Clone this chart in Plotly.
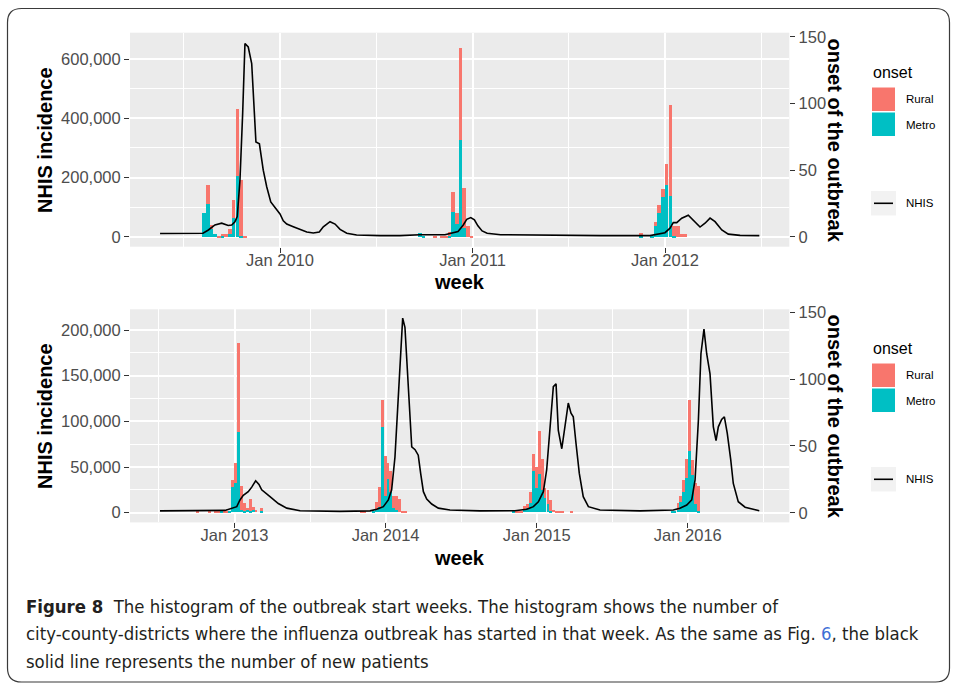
import plotly.graph_objects as go

# ---------------- data ----------------
# x values are decimal years; bars are weekly bins
top_line_year = [2009.377, 2009.481, 2009.600, 2009.628, 2009.662, 2009.697, 2009.731, 2009.749, 2009.766, 2009.778,
                 2009.792, 2009.806, 2009.818, 2009.835, 2009.853, 2009.875, 2009.893, 2009.913, 2009.931, 2009.952,
                 2009.983, 2010.000, 2010.017, 2010.035, 2010.069, 2010.104, 2010.139, 2010.173, 2010.204, 2010.225,
                 2010.260, 2010.286, 2010.312, 2010.347, 2010.398, 2010.520, 2010.623, 2010.727, 2010.857, 2010.925,
                 2010.952, 2010.970, 2010.991, 2011.010, 2011.028, 2011.050, 2011.076, 2011.146, 2011.405, 2011.665,
                 2011.922, 2012.000, 2012.026, 2012.043, 2012.061, 2012.087, 2012.121, 2012.147, 2012.182, 2012.208,
                 2012.234, 2012.260, 2012.295, 2012.329, 2012.390, 2012.490]
top_line_nhis = [11000, 11000, 12000, 23000, 40000, 46000, 38000, 40000, 51000, 68000,
                 191000, 416000, 653000, 641000, 585000, 320000, 314000, 225000, 169000, 118000,
                 90000, 77000, 54000, 43000, 34000, 25000, 16000, 13000, 16000, 34000,
                 51000, 43000, 25000, 12000, 6000, 4000, 4000, 7000, 7000, 18000,
                 40000, 59000, 65000, 57000, 37000, 20000, 12000, 7000, 5000, 4000,
                 4000, 14000, 29000, 48000, 48000, 63000, 73000, 57000, 33000, 46000,
                 63000, 51000, 23000, 9000, 5000, 4000]

top_bar_week = [2009.606, 2009.625, 2009.644, 2009.663, 2009.683, 2009.702, 2009.721, 2009.740, 2009.759, 2009.779,
                2009.798, 2009.817,
                2010.727, 2010.746, 2010.804, 2010.842, 2010.861, 2010.880, 2010.899, 2010.918, 2010.938, 2010.957,
                2010.976, 2010.995,
                2011.874, 2011.932, 2011.951, 2011.970, 2011.989, 2012.008, 2012.028, 2012.047, 2012.066, 2012.085,
                2012.104]
top_rural = [0, 14, 3, 0, 1, 1, 2, 4, 14, 50, 42, 1,
             0, 0, 1, 1, 1, 3, 15, 8, 69, 30, 8, 1,
             2, 0, 3, 6, 6, 16, 68, 7, 8, 2, 2]
top_metro = [18, 25, 6, 2, 0, 1, 0, 2, 14, 46, 1, 0,
             3, 1, 0, 0, 0, 1, 19, 10, 73, 7, 0, 0,
             1, 1, 8, 18, 30, 39, 31, 1, 0, 0, 0]

bot_line_year = [2012.507, 2012.772, 2012.937, 2013.015, 2013.036, 2013.058, 2013.091, 2013.114, 2013.140, 2013.162,
                 2013.180, 2013.235, 2013.290, 2013.346, 2013.434, 2013.698, 2013.897, 2013.941, 2013.985, 2014.018,
                 2014.040, 2014.062, 2014.084, 2014.100, 2014.113, 2014.128, 2014.144, 2014.162, 2014.173, 2014.195,
                 2014.216, 2014.232, 2014.250, 2014.272, 2014.305, 2014.349, 2014.426, 2014.625, 2014.856, 2014.934,
                 2014.978, 2015.011, 2015.044, 2015.066, 2015.088, 2015.110, 2015.128, 2015.143, 2015.166, 2015.183,
                 2015.209, 2015.227, 2015.242, 2015.260, 2015.282, 2015.308, 2015.342, 2015.419, 2015.684, 2015.904,
                 2015.948, 2015.993, 2016.026, 2016.048, 2016.070, 2016.087, 2016.107, 2016.125, 2016.147, 2016.169,
                 2016.187, 2016.202, 2016.224, 2016.242, 2016.261, 2016.284, 2016.301, 2016.334, 2016.379, 2016.473]
bot_line_nhis = [2000, 2000, 2500, 6600, 14000, 19000, 23000, 28000, 35000, 31000,
                 25000, 17500, 10000, 5000, 2200, 1500, 2000, 3700, 6600, 14000,
                 25000, 61000, 123000, 174000, 213000, 203000, 160000, 112000, 72000, 69000,
                 63000, 43000, 23000, 15000, 9500, 5000, 3000, 2000, 2200, 3700,
                 6600, 12000, 23000, 47000, 94000, 138000, 141000, 90000, 70000, 89000,
                 120000, 109000, 105000, 76000, 43000, 17500, 6600, 3000, 2000, 3000,
                 4800, 8400, 14000, 36000, 101000, 174000, 201000, 174000, 152000, 94000,
                 79000, 94000, 102000, 105000, 87000, 58000, 32000, 12000, 6000, 2200]

bot_bar_week = [2012.758, 2012.835, 2012.873, 2012.892, 2012.911, 2012.931, 2012.950, 2012.969, 2012.988, 2013.007,
                2013.027, 2013.046, 2013.065, 2013.084, 2013.103, 2013.123, 2013.142, 2013.180,
                2013.843, 2013.862, 2013.920, 2013.939, 2013.958, 2013.978, 2013.997, 2014.016, 2014.035, 2014.054,
                2014.073, 2014.093, 2014.112, 2014.131,
                2014.844, 2014.864, 2014.883, 2014.902, 2014.921, 2014.940, 2014.959, 2014.979, 2014.998, 2015.017,
                2015.036, 2015.055, 2015.075, 2015.094, 2015.113, 2015.132, 2015.151, 2015.171, 2015.228,
                2015.896, 2015.915, 2015.935, 2015.954, 2015.973, 2015.992, 2016.011, 2016.030, 2016.050, 2016.069]
bot_rural = [1, 1, 1, 1, 0, 1, 1, 0, 5, 15, 67, 18, 6, 1, 9, 2, 2, 2,
             1, 1, 0, 6, 15, 20, 30, 12, 16, 9, 10, 10, 1, 1,
             0, 1, 1, 1, 3, 3, 8, 13, 16, 32, 23, 7, 11, 8, 2, 1, 1, 1, 1,
             0, 0, 5, 4, 9, 14, 38, 11, 16, 19]
bot_metro = [0, 0, 0, 0, 1, 0, 0, 1, 19, 22, 60, 2, 1, 2, 1, 2, 0, 1,
             0, 0, 1, 2, 4, 64, 12, 25, 15, 3, 2, 0, 0, 0,
             1, 0, 0, 0, 2, 3, 7, 31, 18, 29, 17, 11, 6, 1, 0, 0, 0, 0, 0,
             1, 1, 2, 8, 15, 26, 46, 28, 6, 1]

top_xtick_vals = [2010, 2011, 2012]
top_xtick_text = ["Jan 2010", "Jan 2011", "Jan 2012"]
top_xminor = [2009.5, 2010.5, 2011.5, 2012.5]
bot_xtick_vals = [2013, 2014, 2015, 2016]
bot_xtick_text = ["Jan 2013", "Jan 2014", "Jan 2015", "Jan 2016"]
bot_xminor = [2012.5, 2013.5, 2014.5, 2015.5, 2016.5]

top_ytick_vals = [0, 200000, 400000, 600000]
top_ytick_text = ["0", "200,000", "400,000", "600,000"]
top_yminor = [100000, 300000, 500000]
bot_ytick_vals = [0, 50000, 100000, 150000, 200000]
bot_ytick_text = ["0", "50,000", "100,000", "150,000", "200,000"]
bot_yminor = [25000, 75000, 125000, 175000]
onset_tick_vals = [0, 50, 100, 150]
onset_tick_text = ["0", "50", "100", "150"]

caption_lines = [
    "<b>Figure 8</b>&nbsp;&nbsp;The histogram of the outbreak start weeks. The histogram shows the number of",
    "city-county-districts where the influenza outbreak has started in that week. As the same as Fig. "
    "<span style='color:#3D6FD6'>6</span>, the black",
    "solid line represents the number of new patients",
]

# ---------------- styling ----------------
W, H = 956, 684
WEEK = 7 / 365.25
RURAL_C = "#F8766D"
METRO_C = "#00BFC4"
FONT = "Liberation Sans, Arial, Helvetica, sans-serif"
TICKFONT = dict(family=FONT, size=16.5, color="#4D4D4D")


def fx(x):
    return x / W


def fy(y):
    return 1 - y / H


PX0, PX1 = 130, 789.3
TOP_Y0, TOP_Y1 = 32.7, 246.7
BOT_Y0, BOT_Y1 = 309.3, 522.4

fig = go.Figure()

# top panel
fig.add_trace(go.Bar(x=top_bar_week, y=top_metro, width=[WEEK] * len(top_bar_week), name="Metro",
                     marker=dict(color=METRO_C, line=dict(width=0)), xaxis="x", yaxis="y", showlegend=False))
fig.add_trace(go.Bar(x=top_bar_week, y=top_rural, width=[WEEK] * len(top_bar_week), name="Rural",
                     marker=dict(color=RURAL_C, line=dict(width=0)), xaxis="x", yaxis="y", showlegend=False))
fig.add_trace(go.Scatter(x=top_line_year, y=top_line_nhis, mode="lines", name="NHIS",
                         line=dict(color="black", width=1.6), xaxis="x", yaxis="y2", showlegend=False))
# bottom panel
fig.add_trace(go.Bar(x=bot_bar_week, y=bot_metro, width=[WEEK] * len(bot_bar_week), name="Metro",
                     marker=dict(color=METRO_C, line=dict(width=0)), xaxis="x2", yaxis="y3", showlegend=False))
fig.add_trace(go.Bar(x=bot_bar_week, y=bot_rural, width=[WEEK] * len(bot_bar_week), name="Rural",
                     marker=dict(color=RURAL_C, line=dict(width=0)), xaxis="x2", yaxis="y3", showlegend=False))
fig.add_trace(go.Scatter(x=bot_line_year, y=bot_line_nhis, mode="lines", name="NHIS",
                         line=dict(color="black", width=1.6), xaxis="x2", yaxis="y4", showlegend=False))

common_tick = dict(ticks="outside", ticklen=5, tickwidth=1.1, tickcolor="#333333",
                   tickfont=TICKFONT, zeroline=False, showline=False, automargin=False)
grid_major = dict(showgrid=True, gridcolor="white", gridwidth=1.6)


def minor(vals):
    return dict(tickmode="array", tickvals=vals, showgrid=True, gridcolor="white", gridwidth=0.8, ticks="")


fig.update_layout(
    xaxis=dict(domain=[fx(PX0), fx(PX1)], anchor="y", range=[2009.2208, 2012.6457],
               tickmode="array", tickvals=top_xtick_vals, ticktext=top_xtick_text, ticklabelstandoff=-7,
               minor=minor(top_xminor), **grid_major, **common_tick),
    yaxis=dict(domain=[fy(TOP_Y1), fy(TOP_Y0)], anchor="x", side="right", range=[-7.42, 153.2],
               tickmode="array", tickvals=onset_tick_vals, ticktext=onset_tick_text,
               showgrid=False, **common_tick),
    yaxis2=dict(overlaying="y", anchor="x", side="left", range=[-33400, 689200],
                tickmode="array", tickvals=top_ytick_vals, ticktext=top_ytick_text,
                minor=minor(top_yminor), **grid_major, **common_tick),
    xaxis2=dict(domain=[fx(PX0), fx(PX1)], anchor="y3", range=[2012.3084, 2016.6717],
                tickmode="array", tickvals=bot_xtick_vals, ticktext=bot_xtick_text, ticklabelstandoff=-7,
                minor=minor(bot_xminor), **grid_major, **common_tick),
    yaxis3=dict(domain=[fy(BOT_Y1), fy(BOT_Y0)], anchor="x2", side="right", range=[-7.25, 152.3],
                tickmode="array", tickvals=onset_tick_vals, ticktext=onset_tick_text,
                showgrid=False, **common_tick),
    yaxis4=dict(overlaying="y3", anchor="x2", side="left", range=[-10620, 222660],
                tickmode="array", tickvals=bot_ytick_vals, ticktext=bot_ytick_text,
                minor=minor(bot_yminor), **grid_major, **common_tick),
    barmode="stack",
    bargap=0,
    plot_bgcolor="#EBEBEB",
    paper_bgcolor="white",
    width=W, height=H, autosize=False,
    margin=dict(l=0, r=0, t=0, b=0, pad=0),
    template="none",
    font=dict(family=FONT, color="black"),
    showlegend=False,
)

annotations = []
shapes = []


def text(x, y, s, size, bold=False, angle=0, xanchor="center", color="black", family=FONT):
    annotations.append(dict(x=fx(x), y=fy(y), xref="paper", yref="paper", text=(f"<b>{s}</b>" if bold else s),
                            showarrow=False, textangle=angle, xanchor=xanchor, yanchor="middle",
                            font=dict(family=family, size=size, color=color)))


def rect(x0, y0, x1, y1, color):
    shapes.append(dict(type="rect", xref="paper", yref="paper", x0=fx(x0), x1=fx(x1), y0=fy(y1), y1=fy(y0),
                       fillcolor=color, line=dict(width=0), layer="above"))


for off in (0, 276):
    text(45, 140 + off, "NHIS incidence", 20, bold=True, angle=-90)
    text(835, 140.5 + off, "onset of the outbreak", 20, bold=True, angle=90)
    text(459.7, 282 + off, "week", 20, bold=True)
    # legend (drawn as shapes + text)
    text(871, 72 + off, "onset", 16, xanchor="left")
    rect(872, 87.5 + off, 895, 111 + off, RURAL_C)
    rect(872, 112.5 + off, 895, 136 + off, METRO_C)
    text(903.5, 99.3 + off, "Rural", 11.5, xanchor="left")
    text(903.5, 124.5 + off, "Metro", 11.5, xanchor="left")
    rect(871, 191 + off, 896, 215.5 + off, "#F2F2F2")
    shapes.append(dict(type="line", xref="paper", yref="paper", x0=fx(874), x1=fx(893),
                       y0=fy(203.3 + off), y1=fy(203.3 + off), line=dict(color="black", width=1.6)))
    text(903.5, 203.3 + off, "NHIS", 11.5, xanchor="left")

# caption
CAP_FONT = "DejaVu Sans Condensed, Liberation Sans, sans-serif"
for i, line in enumerate(caption_lines):
    annotations.append(dict(x=fx(24), y=fy(606 + 27.5 * i), xref="paper", yref="paper", text=line,
                            showarrow=False, xanchor="left", yanchor="middle", align="left",
                            font=dict(family=CAP_FONT, size=18.4, color="#231F20")))

# rounded outer border
L, T, R, B, r = 7.5, 8.5, 949.5, 682.0, 14


def p(x, y):
    return f"{fx(x):.5f},{fy(y):.5f}"


path = (f"M {p(L + r, T)} L {p(R - r, T)} Q {p(R, T)} {p(R, T + r)} L {p(R, B - r)} Q {p(R, B)} {p(R - r, B)} "
        f"L {p(L + r, B)} Q {p(L, B)} {p(L, B - r)} L {p(L, T + r)} Q {p(L, T)} {p(L + r, T)} Z")
shapes.append(dict(type="path", xref="paper", yref="paper", path=path, line=dict(color="#3a3a3a", width=1.2),
                   fillcolor="rgba(0,0,0,0)", layer="above"))

fig.update_layout(annotations=annotations, shapes=shapes)
fig.write_html("out.html")
